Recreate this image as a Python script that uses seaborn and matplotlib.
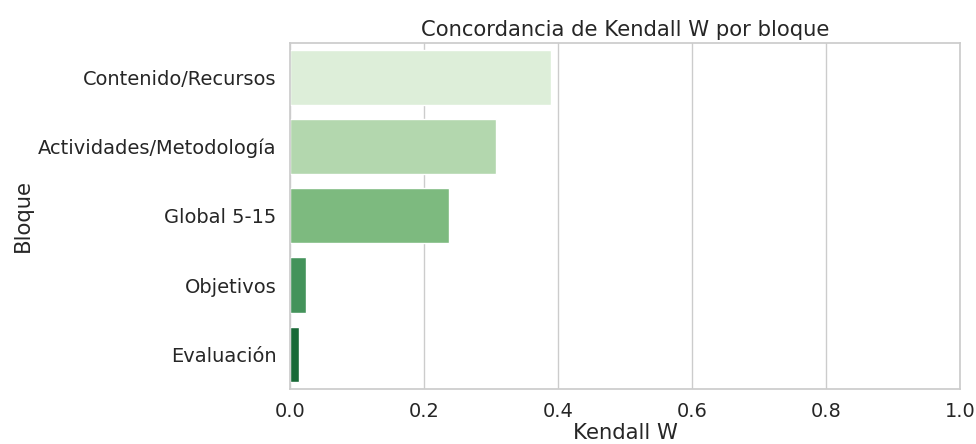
import matplotlib
matplotlib.use("Agg")
import matplotlib.pyplot as plt
import pandas as pd
import seaborn as sns

# Kendall W per block
bloques = ["Contenido/Recursos", "Actividades/Metodología", "Global 5-15",
           "Objetivos", "Evaluación"]
kendall_w = [0.390, 0.307, 0.238, 0.024, 0.013]

df = pd.DataFrame({"Bloque": bloques, "Kendall W": kendall_w})

sns.set_theme(style="whitegrid", font_scale=1.27)

fig, ax = plt.subplots(figsize=(9.76, 4.44), dpi=100)
sns.barplot(data=df, x="Kendall W", y="Bloque", hue="Bloque",
            palette="Greens", legend=False, ax=ax)
ax.set_xlim(0, 1.0)
ax.set_title("Concordancia de Kendall W por bloque", pad=5)
ax.set_xlabel("Kendall W", labelpad=1)
fig.subplots_adjust(left=0.297, right=0.984, top=0.904, bottom=0.124)
fig.savefig("out.png", dpi=100)
